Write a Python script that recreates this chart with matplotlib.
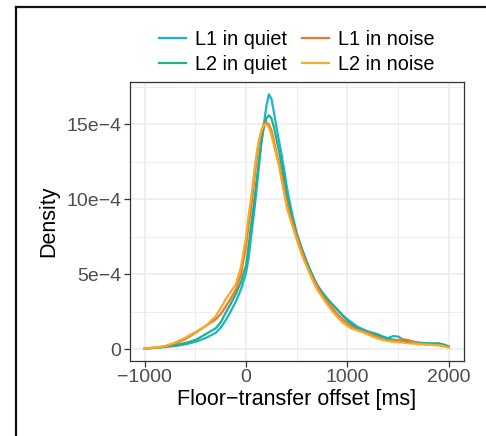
import numpy as np
import matplotlib.pyplot as plt
from matplotlib.lines import Line2D
from matplotlib.ticker import FixedLocator

plt.rcParams['font.family'] = ['Liberation Sans', 'DejaVu Sans']

# offset grid [ms] and density estimates (in units of 1e-4)
offset = [-1000, -900, -800, -700, -600, -500, -400, -300, -250, -200, -150, -100, -50,
          0, 25, 50, 75, 100, 125, 150, 175, 200, 225, 250, 275, 300, 325, 350, 375, 400,
          425, 450, 500, 550, 600, 650, 700, 750, 800, 850, 900, 950, 1000, 1050, 1100,
          1150, 1200, 1250, 1300, 1350, 1400, 1450, 1500, 1550, 1600, 1650, 1700, 1750,
          1800, 1850, 1900, 1950, 2000]

l1_quiet = [0.05, 0.1, 0.15, 0.22, 0.33, 0.5, 0.75, 1.1, 1.45, 1.95, 2.55, 3.2, 4.0,
            5.1, 6.1, 7.5, 8.9, 10.4, 12.1, 13.7, 15.0, 16.2, 17.0, 16.7, 15.8, 14.8, 13.9,
            13.0, 12.0, 10.9, 10.0, 9.2, 7.7, 6.7, 5.8, 5.0, 4.3, 3.8, 3.35, 3.0, 2.65, 2.3,
            2.0, 1.75, 1.5, 1.35, 1.2, 1.1, 1.0, 0.85, 0.75, 0.88, 0.85, 0.65, 0.55, 0.5,
            0.45, 0.42, 0.4, 0.38, 0.38, 0.32, 0.2]

l2_quiet = [0.05, 0.1, 0.18, 0.28, 0.42, 0.62, 1.0, 1.4, 1.8, 2.45, 3.05, 3.7, 4.5,
            5.6, 6.9, 8.3, 9.6, 11.0, 12.5, 13.8, 14.8, 15.4, 15.6, 15.4, 14.8, 14.0, 13.2,
            12.3, 11.3, 10.4, 9.6, 8.9, 7.7, 6.7, 5.8, 5.0, 4.3, 3.8, 3.4, 3.0, 2.65, 2.25,
            1.9, 1.6, 1.4, 1.25, 1.15, 1.05, 0.95, 0.8, 0.7, 0.65, 0.6, 0.55, 0.5, 0.45,
            0.42, 0.4, 0.38, 0.38, 0.4, 0.3, 0.17]

l1_noise = [0.05, 0.12, 0.18, 0.38, 0.68, 1.1, 1.55, 2.0, 2.35, 2.85, 3.4, 4.0, 5.0,
            6.9, 8.3, 9.5, 10.9, 12.5, 13.7, 14.5, 15.0, 15.13, 15.0, 14.6, 13.9, 13.1, 12.4,
            11.6, 10.7, 9.8, 9.1, 8.6, 7.5, 6.5, 5.6, 4.85, 4.2, 3.6, 3.15, 2.75, 2.35, 2.0,
            1.7, 1.45, 1.3, 1.2, 1.1, 0.95, 0.8, 0.65, 0.6, 0.6, 0.62, 0.66, 0.62, 0.5,
            0.4, 0.35, 0.32, 0.3, 0.28, 0.22, 0.15]

l2_noise = [0.05, 0.12, 0.22, 0.45, 0.78, 1.15, 1.55, 2.2, 2.75, 3.35, 3.85, 4.35, 5.5,
            7.5, 8.9, 10.1, 11.5, 12.9, 13.9, 14.6, 14.95, 15.02, 14.8, 14.3, 13.6, 12.9, 12.2,
            11.3, 10.4, 9.5, 8.9, 8.4, 7.3, 6.3, 5.5, 4.7, 4.0, 3.5, 3.0, 2.55, 2.15, 1.8,
            1.55, 1.35, 1.25, 1.15, 1.0, 0.85, 0.72, 0.62, 0.55, 0.5, 0.48, 0.45, 0.4, 0.38,
            0.35, 0.32, 0.3, 0.28, 0.27, 0.2, 0.12]

series = [("L1 in quiet", l1_quiet, "#1bb5c5"),
          ("L2 in quiet", l2_quiet, "#22b08a"),
          ("L1 in noise", l1_noise, "#ee7733"),
          ("L2 in noise", l2_noise, "#f0ae2a")]

fig = plt.figure(figsize=(4.86, 4.36), dpi=100)
ax = fig.add_axes([0.2665, 0.172, 0.6882, 0.6399])

x = np.array(offset)
for name, vals, col in series:
    ax.plot(x, np.array(vals) * 1e-4, color=col, lw=1.6, label=name,
            solid_joinstyle='round', zorder=3)

ax.set_xlim(-1150, 2150)
ax.set_ylim(-0.078e-3, 1.782e-3)

ax.set_xticks([-1000, 0, 1000, 2000])
ax.set_xticklabels(["\u22121000", "0", "1000", "2000"])
ax.set_yticks([0, 5e-4, 10e-4, 15e-4])
ax.set_yticklabels(["0", "5e\u22124", "10e\u22124", "15e\u22124"])
ax.xaxis.set_minor_locator(FixedLocator([-500, 500, 1500]))
ax.yaxis.set_minor_locator(FixedLocator([2.5e-4, 7.5e-4, 12.5e-4, 17.5e-4]))

ax.grid(which='major', color='#ebebeb', lw=1.1, zorder=0)
ax.grid(which='minor', color='#ebebeb', lw=0.6, zorder=0)
ax.tick_params(which='major', direction='out', length=4, width=0.9, color='#333333',
               labelsize=14, labelcolor='#4d4d4d', pad=2)
ax.tick_params(which='minor', length=0)
for s in ax.spines.values():
    s.set_color('#333333')
    s.set_linewidth(0.9)

ax.set_xlabel("Floor\u2212transfer offset [ms]", fontsize=15.5, labelpad=2)
ax.set_ylabel("Density", fontsize=15.5, labelpad=5)

ax.legend(ncol=2, loc='lower center', bbox_to_anchor=(0.5, 1.018), frameon=False,
          fontsize=14.3, handlelength=1.35, handletextpad=0.45, columnspacing=0.75,
          labelspacing=0.3, borderaxespad=0.0, borderpad=0.15)

# outer frame on the left and top
fig.add_artist(Line2D([16 / 486, 16 / 486], [0, 1 - 7 / 436], color='#111111', lw=1.6))
fig.add_artist(Line2D([16 / 486, 1], [1 - 7 / 436, 1 - 7 / 436], color='#111111', lw=1.6))

fig.savefig("out.png", dpi=100)
